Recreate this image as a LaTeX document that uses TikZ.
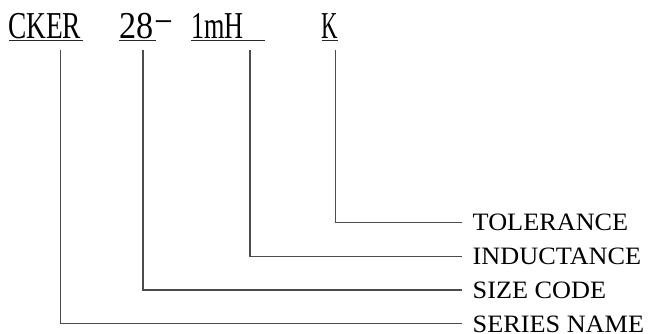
\documentclass[tikz,border=0pt]{standalone}
\usepackage{fontspec}
\usepackage{graphicx}
\setmainfont{Liberation Serif}
\newfontfamily\labelfont[FakeStretch=1.05]{Liberation Serif}
\newcommand\sx[2]{\scalebox{#1}[1]{#2}}
\begin{document}
\begin{tikzpicture}[x=1pt,y=-1pt,
  code/.style={anchor=base west,inner sep=0pt,font=\fontsize{38}{42}\selectfont},
  lab/.style={anchor=west,inner sep=0pt,text height=16.5pt,text depth=0pt,
    font=\labelfont\fontsize{25}{30}\selectfont},
  uline/.style={line width=1.3pt,black!85},
  conn/.style={line width=1.2pt,black!70,line join=miter}]
\useasboundingbox (0,0) rectangle (650,334);
% code text
\node[code] (ck) at (8,38.3) {\sx{0.72}{CKER}};
\node[code] (sz) at (119,38.3) {\sx{0.9}{28}};
\node[code] (dash) at (156.5,38.3) {\raisebox{7.5pt}{\sx{0.78}{–}}};
\node[code] (ind) at (191,38.3) {\sx{0.69}{1mH}};
\node[code] (tol) at (321.5,38.3) {\sx{0.6}{K}};
% underlines
\draw[uline] (9,40.5) -- (83,40.5);
\draw[uline] (119,40.5) -- (156,40.5);
\draw[uline] (191,40.5) -- (265,40.5);
\draw[uline] (322,40.5) -- (338,40.5);
% tops of leader lines
\coordinate (v1) at (60.7,50);
\coordinate (v2) at (143,50);
\coordinate (v3) at (250,50);
\coordinate (v4) at (335.3,50);
% labels
\node[lab] (ltol) at (472.5,222.3) {TOLERANCE};
\node[lab] (lind) at (472.5,256.5) {INDUCTANCE};
\node[lab] (lsz)  at (472.5,290) {SIZE CODE};
\node[lab] (lser) at (472.5,323.8) {SERIES NAME};
% connectors
\draw[conn] (v4) |- ([xshift=-10.8pt]ltol.west);
\draw[conn] (v3) |- ([xshift=-10.8pt]lind.west);
\draw[conn] (v2) |- ([xshift=-10.8pt]lsz.west);
\draw[conn] (v1) |- ([xshift=-10.8pt]lser.west);
\end{tikzpicture}
\end{document}
